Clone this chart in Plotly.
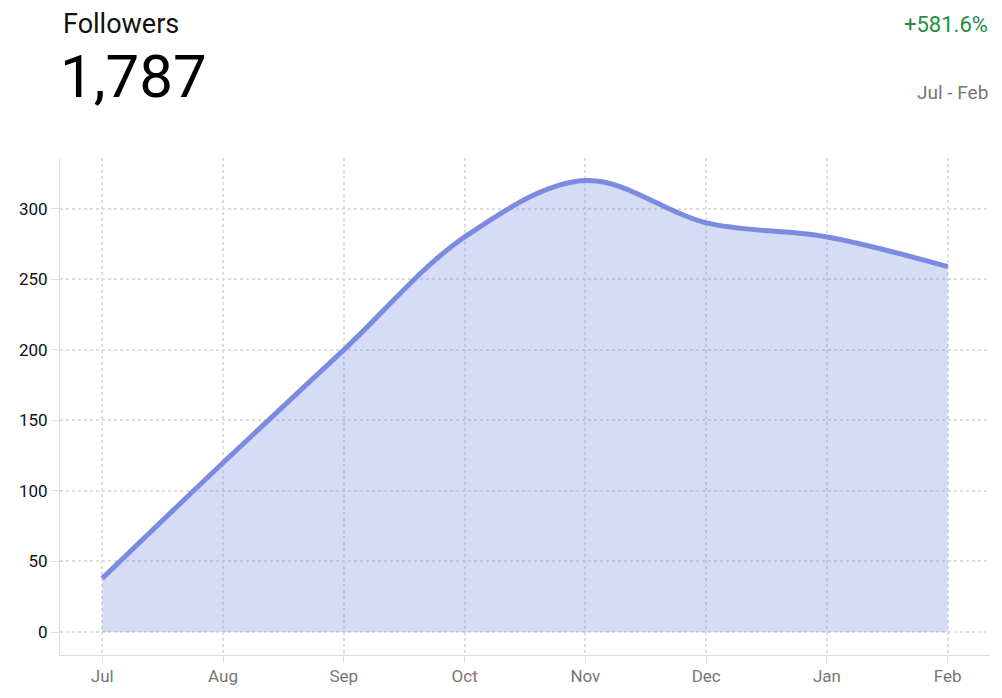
import plotly.graph_objects as go

months = ["Jul", "Aug", "Sep", "Oct", "Nov", "Dec", "Jan", "Feb"]
followers = [38, 120, 200, 280, 320, 290, 280, 259]
total = sum(followers)
change = (followers[-1] - followers[0]) / followers[0] * 100

W, H = 994, 690
L, R, T, B = 52, 12, 150, 43

fig = go.Figure(go.Scatter(
    x=list(range(len(months))), y=followers, mode="lines",
    line=dict(shape="spline", smoothing=1.0, color="#7b8ce0", width=5),
    fill="tozeroy", fillcolor="rgba(123,140,224,0.3)", hoverinfo="skip"))

grid = dict(showgrid=True, gridcolor="#dddddd", griddash="dot", gridwidth=1.5, zeroline=False,
            showline=True, linecolor="#dddddd", linewidth=1)
fig.update_layout(
    width=W, height=H, margin=dict(l=L, r=R, t=T, b=B),
    paper_bgcolor="white", plot_bgcolor="white", showlegend=False,
    font=dict(family="Roboto", size=17, color="#222"),
    xaxis=dict(range=[-0.35, 7.35], tickvals=list(range(len(months))), ticktext=months,
               tickfont=dict(color="#777"), ticks="outside", ticklen=6, tickcolor="#dddddd", **grid),
    yaxis=dict(range=[-16.3, 336], tickvals=[0, 50, 100, 150, 200, 250, 300],
               ticks="outside", ticklen=8, tickcolor="#dddddd", tickfont=dict(color="#111"), **grid),
)
# target pixel positions in the final screenshot (page has 8px body margin)
for t, px, py, s, c, an in [("Followers", 61, 24, 27, "#111", "left"),
                            (f"{total:,}", 58, 77, 60, "#000", "left"),
                            (f"+{change:.1f}%", 990, 25, 22, "#1e8e3e", "right"),
                            ("Jul - Feb", 990, 92, 19, "#777", "right")]:
    fx, fy = px - 8, py - 8
    fig.add_annotation(text=t, x=(fx - L) / (W - L - R), y=(H - B - fy) / (H - T - B),
                       xref="paper", yref="paper", xanchor=an, yanchor="middle",
                       showarrow=False, font=dict(size=s, color=c))
fig.write_html("out.html")
